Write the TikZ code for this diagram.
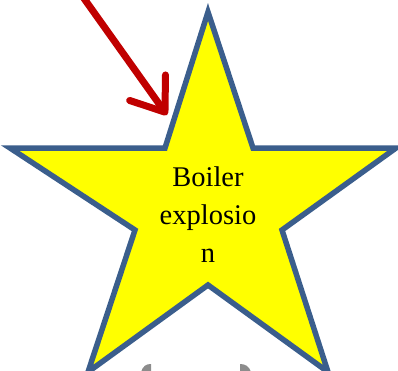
\documentclass[tikz,border=0pt]{standalone}
\usepackage{fontspec}
\setmainfont{Liberation Serif}
\usetikzlibrary{arrows.meta, positioning, calc}
\definecolor{starfill}{HTML}{FFFF00}
\definecolor{starline}{HTML}{3B5E8C}
\definecolor{hotred}{HTML}{C00000}
\definecolor{ringgray}{HTML}{8C8C8C}

\begin{document}
\begin{tikzpicture}[
  x=1pt, y=-1pt,
  starshape/.style={draw=starline, line width=5.5pt, fill=starfill, miter limit=10},
  hitarrow/.style={-{Straight Barb[length=30pt, width=44pt, round]}, line width=7pt, hotred, line cap=round},
  label/.style={font=\fontsize{28.5}{38}\selectfont, text=black, align=center, inner sep=0pt},
]

% Canvas
\useasboundingbox (0,0) rectangle (398,370);

% =============================================
% Gray pieces peeking in at the bottom
% =============================================
\fill[ringgray] (141,372) .. controls (143,366) and (146,364) .. (151,364) -- (151,372) -- cycle;
\fill[ringgray] (240,364) .. controls (245,364) and (249,366) .. (251,372) -- (240,372) -- cycle;

% =============================================
% Star
% =============================================
\coordinate (top) at (208,12);
\coordinate (intr) at (253,148);
\coordinate (rgt) at (396,148);
\coordinate (inrt) at (282,230);
\coordinate (botr) at (328,372);
\coordinate (inbot) at (208,285);
\coordinate (botl) at (88,372);
\coordinate (inlt) at (135,230);
\coordinate (lft) at (10,148);
\coordinate (intl) at (165,148);

\draw[starshape] (top) -- (intr) -- (rgt) -- (inrt) -- (botr) -- (inbot)
  -- (botl) -- (inlt) -- (lft) -- (intl) -- cycle;

\node[label] (boiler) at (208,215) {Boiler\\explosio\\n};

% =============================================
% Red arrow into the star
% =============================================
\coordinate (redtail) at (78,-10);
\coordinate (redtip) at (167,115);
\draw[hitarrow] (redtail) -- (redtip);

\end{tikzpicture}
\end{document}
